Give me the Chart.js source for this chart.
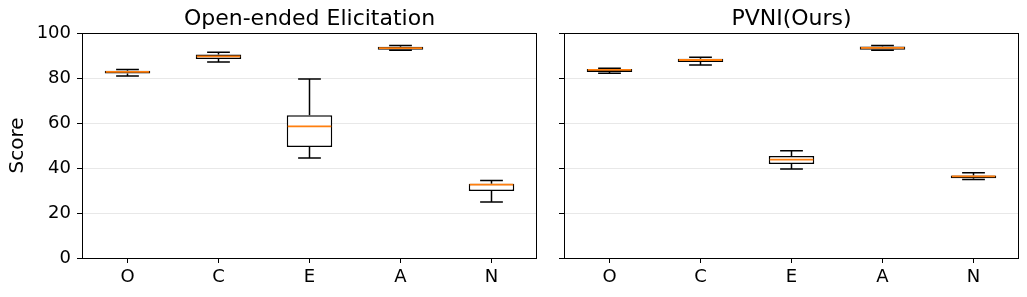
<!DOCTYPE html>
<html><head><meta charset="utf-8">
<script src="https://cdn.jsdelivr.net/npm/chart.js@4"></script>
<style>
html,body{margin:0;padding:0;background:#fff;width:1027px;height:297px;overflow:hidden;}
canvas{position:absolute;top:0;}
#c1{left:0;}
#c2{left:543px;}
</style></head><body>
<canvas id="c1" width="543" height="297"></canvas>
<canvas id="c2" width="484" height="297"></canvas>
<script>
const categories = ['O','C','E','A','N'];
const yTicks = [0,20,40,60,80,100];

const openMin = [80.9, 87.1, 44.4, 92.3, 24.9];
const openQ1  = [82.0, 88.4, 49.3, 92.6, 29.8];
const openMed = [82.7, 89.6, 58.5, 93.3, 32.6];
const openQ3  = [83.2, 90.4, 63.4, 93.9, 33.0];
const openMax = [83.8, 91.5, 79.6, 94.5, 34.4];

const pvniMin = [82.1, 85.8, 39.6, 92.3, 34.9];
const pvniQ1  = [82.7, 87.1, 41.8, 92.6, 35.4];
const pvniMed = [83.6, 88.0, 43.7, 93.4, 36.3];
const pvniQ3  = [84.0, 88.6, 45.3, 94.0, 36.7];
const pvniMax = [84.3, 89.2, 47.7, 94.5, 37.9];

const FONT = 'DejaVu Sans';

const boxPlugin = {
  id: 'boxExtras',
  afterDatasetsDraw(chart, args, opts) {
    const ctx = chart.ctx;
    const xs = chart.scales.x, ys = chart.scales.y;
    const meta = chart.getDatasetMeta(0);
    const st = opts.stats;
    ctx.save();
    ctx.lineWidth = 1.5;
    for (let i = 0; i < st.min.length; i++) {
      const x = xs.getPixelForValue(i);
      const w = meta.data[i].width;
      const cap = w / 4;
      const pMin = ys.getPixelForValue(st.min[i]);
      const pQ1 = ys.getPixelForValue(st.q1[i]);
      const pQ3 = ys.getPixelForValue(st.q3[i]);
      const pMax = ys.getPixelForValue(st.max[i]);
      const pMed = ys.getPixelForValue(st.med[i]);
      ctx.strokeStyle = '#000';
      ctx.beginPath();
      ctx.moveTo(x, pQ1); ctx.lineTo(x, pMin);
      ctx.moveTo(x - cap, pMin); ctx.lineTo(x + cap, pMin);
      ctx.moveTo(x, pQ3); ctx.lineTo(x, pMax);
      ctx.moveTo(x - cap, pMax); ctx.lineTo(x + cap, pMax);
      ctx.stroke();
      ctx.strokeStyle = '#ff7f0e';
      ctx.lineWidth = 1.8;
      ctx.beginPath();
      ctx.moveTo(x - w / 2 + 1, pMed); ctx.lineTo(x + w / 2 - 1, pMed);
      ctx.stroke();
      ctx.lineWidth = 1.5;
    }
    const a = chart.chartArea;
    ctx.strokeStyle = '#000';
    ctx.lineWidth = 1;
    ctx.strokeRect(Math.round(a.left) + 0.5, Math.round(a.top) + 0.5,
                   Math.round(a.right - a.left) - 1, Math.round(a.bottom - a.top));
    ctx.restore();
  }
};

function makeChart(id, title, stats, showLabels, yWidth, padRight) {
  const boxData = stats.q1.map((v, i) => [v, stats.q3[i]]);
  return new Chart(document.getElementById(id), {
    type: 'bar',
    data: {
      labels: categories,
      datasets: [{
        data: boxData,
        backgroundColor: '#ffffff',
        borderColor: '#000000',
        borderWidth: 1.5,
        borderSkipped: false,
        barPercentage: 0.5,
        categoryPercentage: 1.0
      }]
    },
    options: {
      responsive: false,
      animation: false,
      events: [],
      layout: { padding: { left: 0, right: padRight, top: 0, bottom: 0 } },
      plugins: {
        legend: { display: false },
        tooltip: { enabled: false },
        title: {
          display: true, text: title, fullSize: false,
          color: '#000', font: { family: FONT, size: 22, weight: 'normal', lineHeight: 1.2 },
          padding: { top: 6, bottom: 0.6 }
        },
        boxExtras: { stats: stats }
      },
      scales: {
        x: {
          type: 'category',
          offset: true,
          border: { display: false },
          grid: { drawOnChartArea: false, tickColor: '#000', tickLength: 5, offset: false },
          ticks: { color: '#000', font: { family: FONT, size: 18 }, padding: 4 },
          afterFit(s) { s.height = 39; }
        },
        y: {
          min: 0, max: 100,
          afterBuildTicks(s) { s.ticks = yTicks.map(v => ({ value: v })); },
          border: { display: false },
          grid: { color: '#e8e8e8', lineWidth: 1, tickColor: '#000', tickLength: 5 },
          ticks: {
            color: '#000', font: { family: FONT, size: 18 }, padding: 6,
            callback: (v) => showLabels ? String(v) : ''
          },
          title: {
            display: showLabels, text: 'Score', color: '#000',
            font: { family: FONT, size: 20, lineHeight: 1.2 }, padding: { top: 6, bottom: 0 }
          },
          afterFit(s) { s.width = yWidth; }
        }
      }
    },
    plugins: [boxPlugin]
  });
}

makeChart('c1', 'Open-ended Elicitation',
  { min: openMin, q1: openQ1, med: openMed, q3: openQ3, max: openMax }, true, 82, 6);
makeChart('c2', 'PVNI(Ours)',
  { min: pvniMin, q1: pvniQ1, med: pvniMed, q3: pvniQ3, max: pvniMax }, false, 21, 8);
</script>
</body></html>
